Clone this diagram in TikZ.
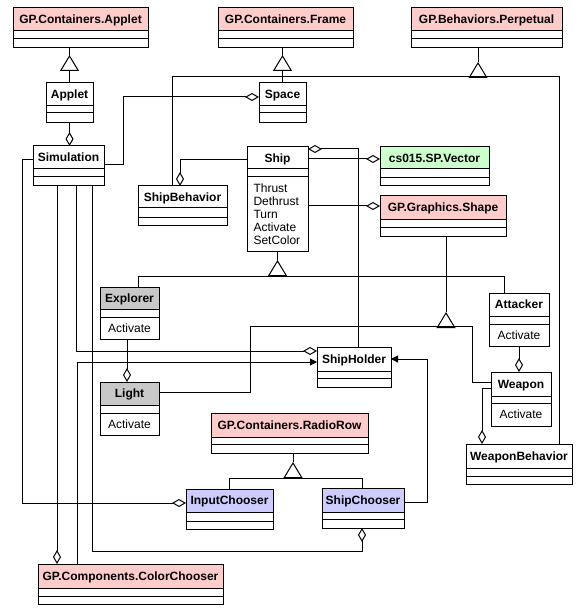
\documentclass[tikz,border=0pt]{standalone}
\usepackage{fontspec}
\setmainfont{Liberation Sans}
\usetikzlibrary{arrows.meta}
\definecolor{gppink}{RGB}{255,204,204}
\definecolor{spgreen}{RGB}{204,255,204}
\definecolor{chblue}{RGB}{204,204,255}
\definecolor{subgray}{RGB}{200,200,200}
\begin{document}
\begin{tikzpicture}
	[x=1pt,y=-1pt,line width=1pt,
	ClassBox/.style={draw,rectangle,inner sep=0pt,outer sep=0pt,anchor=north west},
	ClassName/.style={font=\bfseries\fontsize{12}{13}\selectfont,inner sep=0pt,text height=8.6pt,text depth=0pt},
	OpName/.style={font=\fontsize{12}{13}\selectfont,inner sep=0pt,text height=8.6pt,text depth=0pt},
	gen/.style={-{Triangle[open,length=16pt,width=19pt]}},
	agg/.style={-{Diamond[open,length=14pt,width=8pt]}},
	nav/.style={-{Triangle[length=7pt,width=7pt]}}]
	
	\fill[white] (0,0) rectangle (581,612);
	\useasboundingbox (0,0) rectangle (581,612);
	
	% class boxes: name/left/top/right/bottom/divider 1/divider 2/colour/text
	\foreach \nm/\xl/\yt/\xr/\yb/\ya/\yc/\col/\txt in {
		gpapplet/13/7.5/148/47.5/31/38.5/gppink/GP.Containers.Applet,
		gpframe/218/7.5/353/47.5/31/38.5/gppink/GP.Containers.Frame,
		perpetual/411/7.5/562/47.5/31/38.5/gppink/GP.Behaviors.Perpetual,
		applet/46/83/93/123/106/113/white/Applet,
		space/259/83/306/123/106/113/white/Space,
		simulation/33/146/104/186/169/177/white/Simulation,
		shipbeh/138/186/227/225/208/217/white/ShipBehavior,
		ship/247/147/308/251/169/177/white/Ship,
		vector/380/147/489/186/169/178/spgreen/cs015.SP.Vector,
		shape/380/196/506/236/219/227/gppink/GP.Graphics.Shape,
		explorer/100/287/159/339/309/317/subgray/Explorer,
		attacker/489/293/549/346/316/324/white/Attacker,
		shipholder/317/347/391/387/371/378/white/ShipHolder,
		light/100/382/159/435/405/413/subgray/Light,
		weapon/491/372/551/426/396/403/white/Weapon,
		radiorow/211/413/368/453/437/444/gppink/GP.Containers.RadioRow,
		weaponbeh/466/444/572/484/468/476/white/WeaponBehavior,
		inputch/186/489/273/529/512/521/chblue/InputChooser,
		shipch/322/488/404/528/512/519/chblue/ShipChooser,
		colorch/38/564/223/604/588/596/gppink/GP.Components.ColorChooser}
	{
		\fill[\col] (\xl,\yt) rectangle (\xr,\ya);
		\node[ClassBox,minimum width={(\xr-\xl)*1pt},minimum height={(\yb-\yt)*1pt}] (\nm) at (\xl,\yt) {};
		\draw (\xl,\ya) -- (\xr,\ya) (\xl,\yc) -- (\xr,\yc);
		\node[ClassName] (\nm-name) at ({(\xl+\xr)/2},{(\yt+\ya)/2}) {\txt};
	}
	
	% operations
	\foreach \op [count=\i] in {Thrust,Dethrust,Turn,Activate,SetColor}
	\node[OpName,anchor=west] (ship-op\i) at (253,{175+13*\i}) {\op};
	\foreach \nm/\x/\y in {explorer/129.5/328,light/129.5/424,attacker/519/335,weapon/521/414.5}
	\node[OpName] (\nm-op) at (\x,\y) {Activate};
	
	% junction points
	\coordinate (t-applet) at (69.5,55);
	\coordinate (t-frame) at (282.5,55);
	\coordinate (t-perp) at (478,62);
	\coordinate (b-perp) at (478,77);
	\coordinate (j-sb) at (172,77);
	\coordinate (j-wb) at (559,77);
	\coordinate (t-ship) at (277.5,260);
	\coordinate (b-ship) at (277.5,276);
	\coordinate (j-ex) at (138,276);
	\coordinate (j-at) at (504,276);
	\coordinate (t-shape) at (446,312);
	\coordinate (b-shape) at (446,326);
	\coordinate (j-li) at (250,326);
	\coordinate (j-li2) at (250,392);
	\coordinate (j-we) at (472,326);
	\coordinate (j-we2) at (472,382);
	\coordinate (t-radio) at (293,462);
	\coordinate (b-radio) at (293,478);
	\coordinate (j-ic) at (229,478);
	\coordinate (j-sc) at (362,478);
	
	% generalization
	\draw (gpapplet.south -| t-applet) -- (t-applet);
	\draw[gen] (applet.north) -- (t-applet);
	\draw (gpframe.south -| t-frame) -- (t-frame);
	\draw[gen] (space.north) -- (t-frame);
	\draw (perpetual.south -| t-perp) -- (t-perp);
	\draw[gen] (b-perp) -- (t-perp);
	\draw (shipbeh.north -| j-sb) -- (j-sb) -- (j-wb) -- (weaponbeh.north -| j-wb);
	\draw (ship.south -| t-ship) -- (t-ship);
	\draw[gen] (b-ship) -- (t-ship);
	\draw (explorer.north -| j-ex) -- (j-ex) -- (j-at) -- (attacker.north -| j-at);
	\draw (shape.south -| t-shape) -- (t-shape);
	\draw[gen] (b-shape) -- (t-shape);
	\draw (light.east |- j-li2) -- (j-li2) -- (j-li) -- (j-we) -- (j-we2) -- (weapon.west |- j-we2);
	\draw (radiorow.south -| t-radio) -- (t-radio);
	\draw[gen] (b-radio) -- (t-radio);
	\draw (inputch.north -| j-ic) -- (j-ic) -- (j-sc) -- (shipch.north -| j-sc);
	
	% aggregation
	\coordinate (j-sim1) at (123,165);
	\coordinate (j-sim2) at (123,97);
	\coordinate (j-sim3) at (76,351);
	\coordinate (x-cc) at (57,0);
	\coordinate (j-sim4) at (92,551);
	\coordinate (j-sim5) at (362,551);
	\coordinate (j-sim6) at (22,160);
	\coordinate (j-sim7) at (22,503);
	\coordinate (j-ship1) at (180,160);
	\coordinate (y-vec) at (0,159);
	\coordinate (y-shape) at (0,206);
	\coordinate (j-sh1) at (358,149);
	\coordinate (j-wp) at (482,388);
	\coordinate (x-ex) at (127,0);
	\draw[agg] (applet.south) -- (applet.south |- simulation.north);
	\draw[agg] (simulation.east |- j-sim1) -- (j-sim1) -- (j-sim2) -- (space.west |- j-sim2);
	\draw[agg] (ship.west |- j-ship1) -- (j-ship1) -- (shipbeh.north -| j-ship1);
	\draw[agg] (ship.east |- y-vec) -- (vector.west |- y-vec);
	\draw[agg] (ship.east |- y-shape) -- (shape.west |- y-shape);
	\draw[agg] (shipholder.north -| j-sh1) -- (j-sh1) -- (ship.east |- j-sh1);
	\draw[agg] (attacker.south) -- (attacker.south |- weapon.north);
	\draw[agg] (weapon.west |- j-wp) -- (j-wp) -- (weaponbeh.north -| j-wp);
	\draw[agg] (explorer.south -| x-ex) -- (light.north -| x-ex);
	\draw[agg] (simulation.south -| j-sim3) -- (j-sim3) -- (shipholder.west |- j-sim3);
	\draw[agg] (simulation.south -| x-cc) -- (colorch.north -| x-cc);
	\draw[agg] (simulation.south -| j-sim4) -- (j-sim4) -- (j-sim5) -- (shipch.south -| j-sim5);
	\draw[agg] (simulation.west |- j-sim6) -- (j-sim6) -- (j-sim7) -- (inputch.west |- j-sim7);
	
	% navigable association
	\coordinate (j-cc1) at (77,362);
	\coordinate (j-sc1) at (427,502);
	\coordinate (j-sc2) at (427,359);
	\draw[nav] (colorch.north -| j-cc1) -- (j-cc1) -- (shipholder.west |- j-cc1);
	\draw[nav] (shipch.east |- j-sc1) -- (j-sc1) -- (j-sc2) -- (shipholder.east |- j-sc2);
	
\end{tikzpicture}
\end{document}
